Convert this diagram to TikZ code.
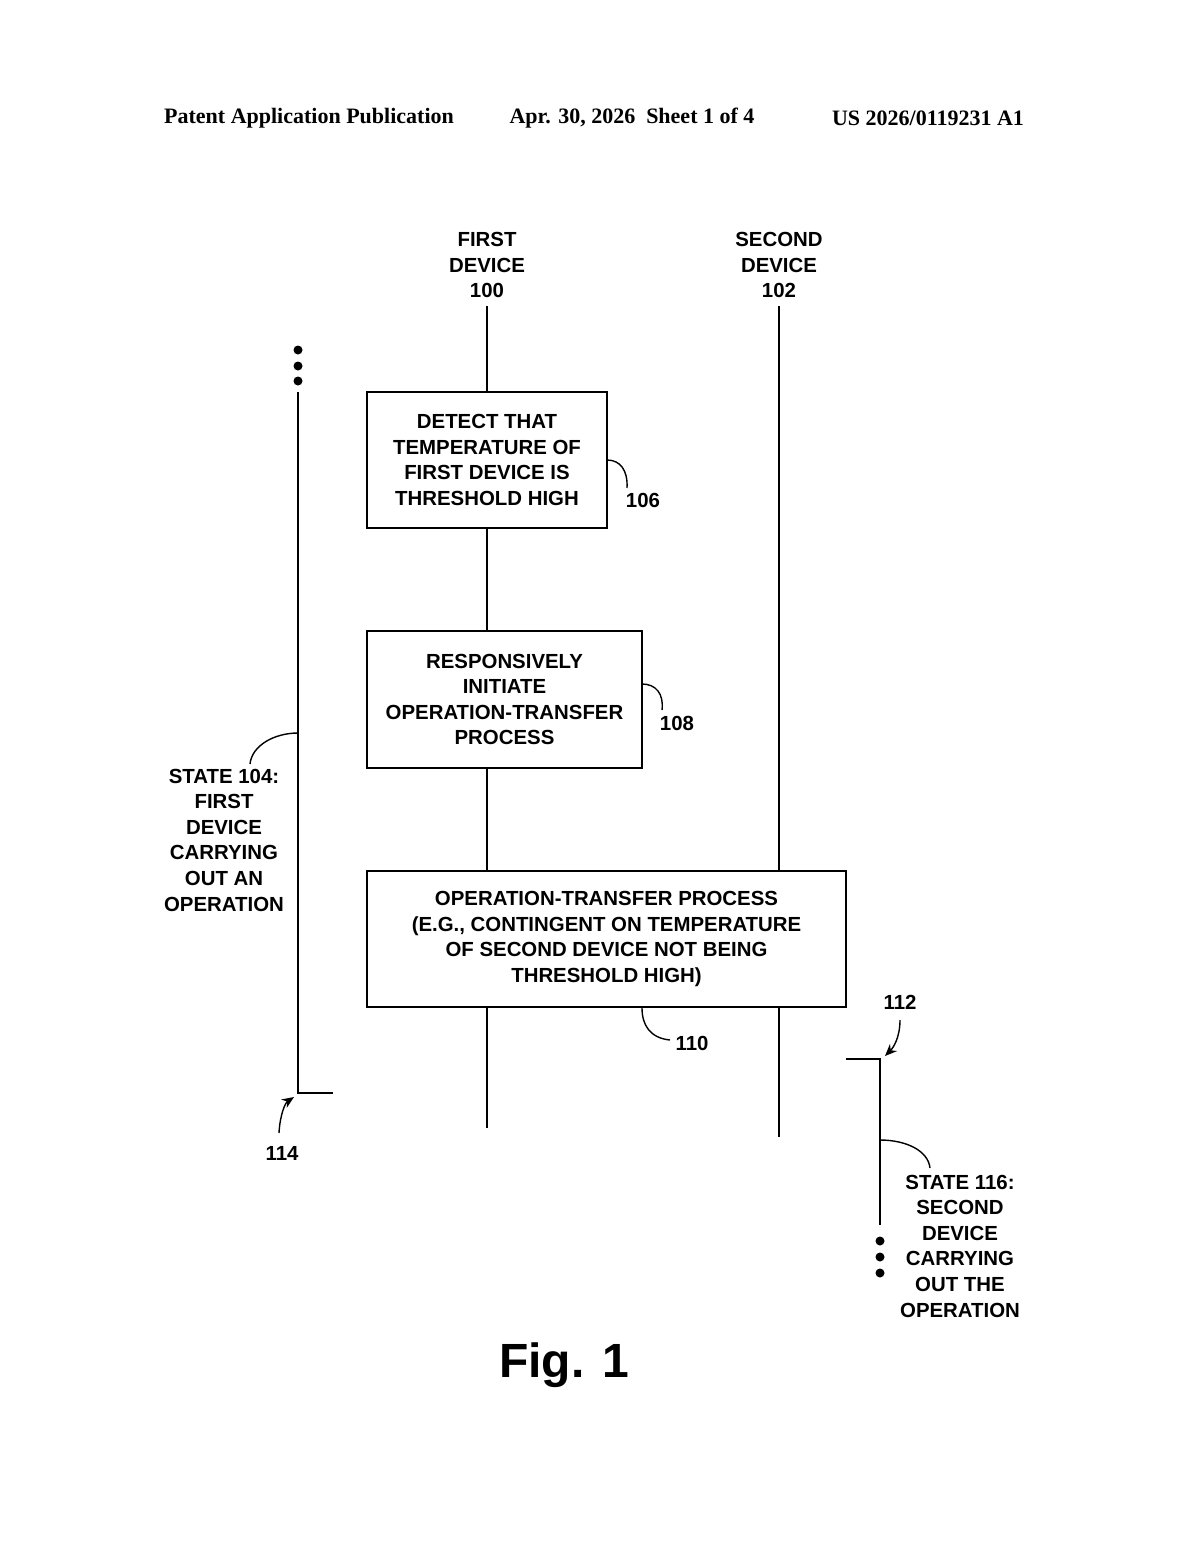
\documentclass[tikz,border=0pt]{standalone}
\usepackage{fontspec}
\setmainfont{Liberation Serif}
\setsansfont{Liberation Sans}
\usetikzlibrary{arrows.meta}
\begin{document}
\begin{tikzpicture}[x=0.5pt,y=-0.5pt,
  txt/.style={font=\sffamily\bfseries\fontsize{10.2}{12.8}\selectfont,align=center,inner sep=0pt},
  box/.style={draw,line width=0.8pt,fill=white,txt},
  ln/.style={line width=0.8pt},
  lead/.style={line width=0.7pt},
  arr/.style={line width=0.7pt,-{Stealth[length=6pt,width=5pt]}},
  hdr/.style={font=\rmfamily\bfseries\fontsize{11}{12}\selectfont,inner sep=0pt},
  dot/.style={circle,fill,inner sep=0pt,minimum size=4.5pt}]
\useasboundingbox (0,0) rectangle (1200,1547);
% header
\node[hdr] (h1) at (309,118) {Patent Application Publication};
\node[hdr] (h2) at (632,118) {Apr. 30, 2026\ \ Sheet 1 of 4};
\node[hdr] (h3) at (928,118) {US 2026/0119231 A1};
% lifelines
\node[txt] (d1) at (487,265) {FIRST\\DEVICE\\100};
\node[txt] (d2) at (779,265) {SECOND\\DEVICE\\102};
\coordinate (d1top) at (487,306);
\coordinate (d1bot) at (487,1128);
\coordinate (d2top) at (779,306);
\coordinate (d2bot) at (779,1137);
\draw[ln] (d1top) -- (d1bot);
\draw[ln] (d2top) -- (d2bot);
% boxes
\node[box,minimum width=120pt,minimum height=68pt] (b106) at (487,460)
  {DETECT THAT\\TEMPERATURE OF\\FIRST DEVICE IS\\THRESHOLD HIGH};
\node[box,minimum width=137.5pt,minimum height=68.5pt] (b108) at (504.5,699.5)
  {RESPONSIVELY\\INITIATE\\OPERATION-TRANSFER\\PROCESS};
\node[box,minimum width=239.5pt,minimum height=68pt] (b110) at (606.5,939)
  {OPERATION-TRANSFER PROCESS\\(E.G., CONTINGENT ON TEMPERATURE\\OF SECOND DEVICE NOT BEING\\THRESHOLD HIGH)};
% reference labels
\node[txt] (l106) at (643,500) {106};
\node[txt] (l108) at (677,723) {108};
\node[txt] (l110) at (692,1043) {110};
\node[txt] (l112) at (900,1002) {112};
\node[txt] (l114) at (282,1153) {114};
\coordinate (c106) at (607,460);
\coordinate (c108) at (642,684);
\coordinate (c110) at (642,1008);
\draw[lead] (c106) .. controls (620,460) and (628,470) .. (627,488);
\draw[lead] (c108) .. controls (656,684) and (664,694) .. (662,710);
\draw[lead] (c110) .. controls (642,1025) and (650,1038) .. (670,1040);
% state 104
\coordinate (s1top) at (298,392);
\coordinate (s1bot) at (298,1093);
\coordinate (s1end) at (333,1093);
\draw[ln] (s1top) -- (s1bot) -- (s1end);
\node[dot] (p1) at (298,350) {};
\node[dot] (p2) at (298,366) {};
\node[dot] (p3) at (298,381) {};
\node[txt] (st104) at (224,840) {STATE 104:\\FIRST\\DEVICE\\CARRYING\\OUT AN\\OPERATION};
\coordinate (c104) at (298,733);
\draw[lead] (c104) .. controls (275,733) and (252,745) .. (250,764);
\coordinate (a114s) at (279,1133);
\coordinate (a114e) at (294,1097);
\draw[arr] (a114s) .. controls (280,1115) and (285,1103) .. (a114e);
% state 116
\coordinate (s2start) at (846,1059);
\coordinate (s2corner) at (880,1059);
\coordinate (s2bot) at (880,1225);
\draw[ln] (s2start) -- (s2corner) -- (s2bot);
\node[dot] (q1) at (880,1241) {};
\node[dot] (q2) at (880,1257) {};
\node[dot] (q3) at (880,1273) {};
\node[txt] (st116) at (960,1246) {STATE 116:\\SECOND\\DEVICE\\CARRYING\\OUT THE\\OPERATION};
\coordinate (c116) at (880,1140);
\draw[lead] (c116) .. controls (905,1140) and (928,1150) .. (930,1168);
\coordinate (a112s) at (900,1020);
\coordinate (a112e) at (885,1056);
\draw[arr] (a112s) .. controls (900,1038) and (893,1048) .. (a112e);
% figure label
\node[font=\sffamily\bfseries\fontsize{24}{26}\selectfont,inner sep=0pt] (fig) at (564,1365) {Fig. 1};
\end{tikzpicture}
\end{document}
